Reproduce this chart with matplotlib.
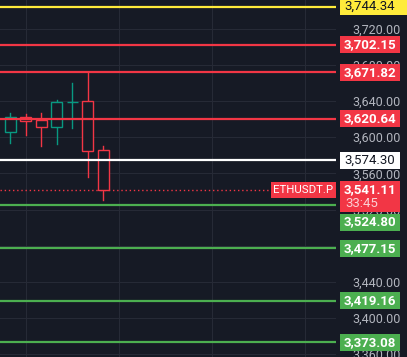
import matplotlib
matplotlib.use('Agg')
import matplotlib.pyplot as plt
from matplotlib.patches import Rectangle
from matplotlib.transforms import blended_transform_factory

plt.rcParams['font.family'] = ['Roboto', 'DejaVu Sans']

# candles
opens  = [3606.1, 3622.3, 3619.0, 3611.6, 3638.4, 3640.0, 3585.8]
highs  = [3627.1, 3626.0, 3627.1, 3641.5, 3660.0, 3672.1, 3590.6]
lows   = [3593.9, 3602.4, 3590.6, 3592.5, 3610.5, 3556.3, 3530.5]
closes = [3622.0, 3618.2, 3611.6, 3638.9, 3639.3, 3585.0, 3541.11]

# horizontal levels
yellow_levels = [3744.34]
red_levels = [3702.15, 3671.82, 3620.64]
white_levels = [3574.30]
green_levels = [3524.80, 3477.15, 3419.16, 3373.08]

last_price = 3541.11
symbol = "ETHUSDT.P"
countdown = "33:45"
y_ticks = [3360, 3400, 3440, 3480, 3520, 3560, 3600, 3640, 3680, 3720]

BG = '#161a25'
GRID = '#262a36'
TEAL = '#089981'
RED = '#f23645'
GREEN = '#4caf50'
YELLOW = '#ffeb3b'

W, H = 407, 357
fig = plt.figure(figsize=(W / 100, H / 100), dpi=100, facecolor=BG)
ax = fig.add_axes([0, 0, 336 / W, 1])
ax.set_facecolor(BG)

ax.set_ylim(3356.85, 3751.75)
ax.set_xlim(-0.677, 21.0)

for s in ax.spines.values():
    s.set_visible(False)

ax.set_yticks(y_ticks)
ax.set_yticklabels([f"{v:,.2f}" for v in y_ticks])
ax.yaxis.tick_right()
ax.tick_params(axis='y', length=0, pad=12, labelsize=9, labelcolor='#b2b5be')
ax.set_xticks([1, 7, 13, 19])
ax.tick_params(axis='x', length=0, labelbottom=False)
ax.grid(True, color=GRID, linewidth=0.8)
ax.set_axisbelow(True)

# candles
bw = 0.71
for i, (o, h, l, c) in enumerate(zip(opens, highs, lows, closes)):
    col = TEAL if c >= o else RED
    lo, hi = min(o, c), max(o, c)
    ax.plot([i, i], [hi, h], color=col, lw=1, zorder=3)
    ax.plot([i, i], [l, lo], color=col, lw=1, zorder=3)
    ax.add_patch(Rectangle((i - bw / 2, lo), bw, max(hi - lo, 0.8),
                           facecolor=BG, edgecolor=col, lw=1, zorder=3))

# level lines
for lv in yellow_levels:
    ax.axhline(lv, color=YELLOW, lw=1.6, zorder=4)
for lv in red_levels:
    ax.axhline(lv, color=RED, lw=1.6, zorder=4)
for lv in white_levels:
    ax.axhline(lv, color='white', lw=1.6, zorder=4)
for lv in green_levels:
    ax.axhline(lv, color=GREEN, lw=1.6, zorder=4)

# last price dotted line
ax.axhline(last_price, color=RED, lw=1, ls=(0, (1, 2)), zorder=2)

# price tags on the scale
pxu = 0.904  # pixels per price unit
tr = blended_transform_factory(fig.transFigure, ax.transData)
x0, x1 = 340 / W, 400 / W


def tag(y, text, fc, tc, h=17, bold=True, right=x1):
    ax.add_patch(Rectangle((x0, y - h / 2 / pxu), right - x0, h / pxu,
                           transform=tr, facecolor=fc, edgecolor='none',
                           clip_on=False, zorder=10))
    ax.text((x0 + x1) / 2, y, text,
            transform=tr, color=tc, fontsize=9.5,
            fontweight='bold' if bold else 'normal',
            ha='center', va='center', clip_on=False, zorder=11)


for lv in yellow_levels:
    tag(lv, f"{lv:,.2f}", YELLOW, '#131722', bold=False, right=1.0)
for lv in red_levels:
    tag(lv, f"{lv:,.2f}", RED, 'white')
for lv in white_levels:
    tag(lv, f"{lv:,.2f}", 'white', '#131722', bold=False)

# green tags; first one pushed below the last-price tag
green_pos = [3751.75 - 222 / pxu] + green_levels[1:]
for lv, pos in zip(green_levels, green_pos):
    tag(pos, f"{lv:,.2f}", GREEN, 'white')

# last price tag (two rows)
top = 3751.75 - 181 / pxu
ax.add_patch(Rectangle((x0, top - 31 / pxu), x1 - x0, 31 / pxu, transform=tr,
                       facecolor=RED, edgecolor='none', clip_on=False, zorder=12))
ax.text((x0 + x1) / 2, 3751.75 - 189.5 / pxu, f"{last_price:,.2f}", transform=tr,
        color='white', fontsize=9.5, fontweight='bold', ha='center', va='center',
        clip_on=False, zorder=13)
ax.text(x0 + 5 / W, 3751.75 - 203.5 / pxu, countdown, transform=tr,
        color='#fbd0d4', fontsize=9.5, ha='left', va='center',
        clip_on=False, zorder=13)

# symbol tag
sx0, sx1 = 271 / W, 336 / W
ax.add_patch(Rectangle((sx0, last_price - 8 / pxu), sx1 - sx0, 16 / pxu,
                       transform=tr, facecolor=RED, edgecolor='none',
                       clip_on=False, zorder=12))
ax.text((sx0 + sx1) / 2, last_price, symbol, transform=tr, color='white',
        fontsize=8.2, ha='center', va='center', clip_on=False, zorder=13)

fig.savefig('out.png', dpi=100, facecolor=BG)
